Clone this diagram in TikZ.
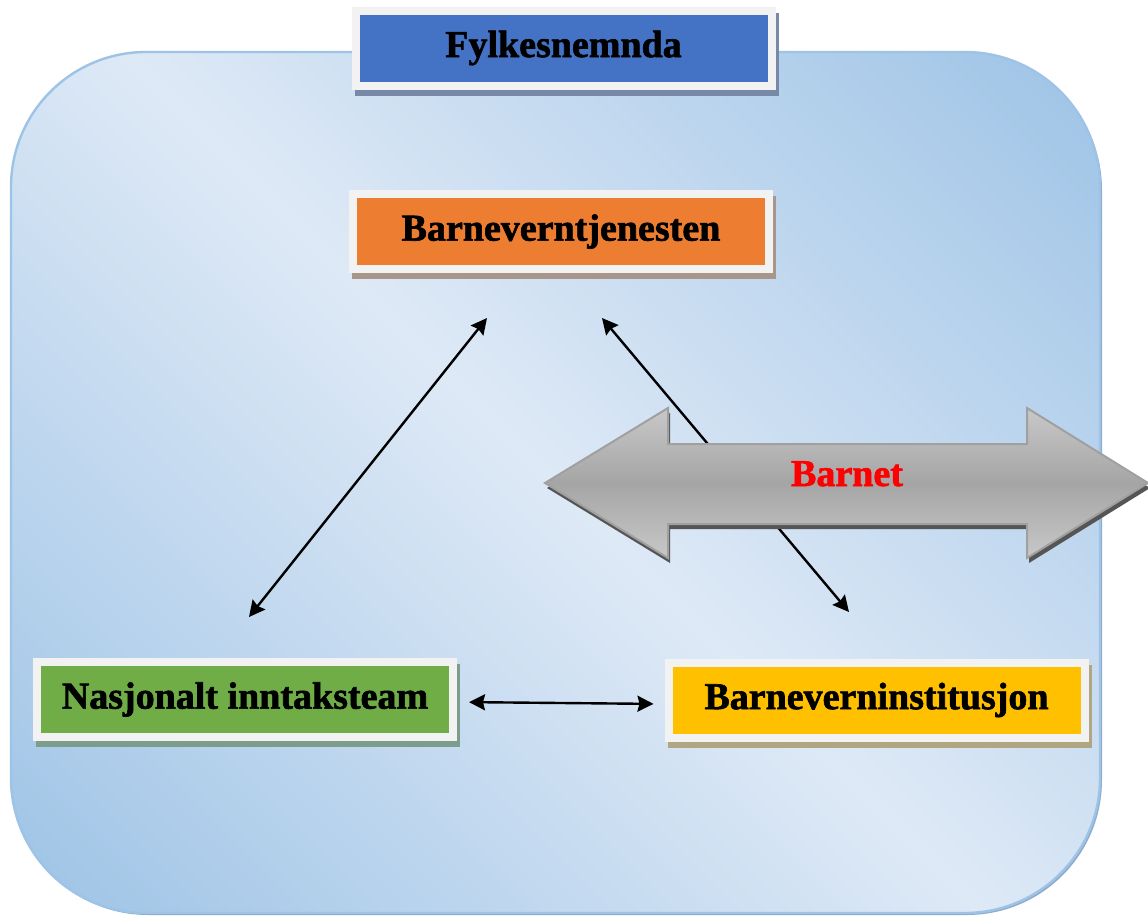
\documentclass[tikz,border=0pt]{standalone}
\usepackage{fontspec}
\setmainfont{Liberation Serif}
\newfontfamily\heavyfont{Liberation Serif Bold}[FakeBold=1.6]
\usetikzlibrary{arrows.meta}
\definecolor{bglight}{HTML}{DEE9F6}
\definecolor{bgdark}{HTML}{9DC3E6}
\definecolor{bgline}{HTML}{9DC3E6}
\definecolor{bgshadow}{HTML}{8FAACB}
\definecolor{cblue}{HTML}{4472C4}
\definecolor{corange}{HTML}{ED7D31}
\definecolor{cgreen}{HTML}{70AD47}
\definecolor{cyellow}{HTML}{FFC000}
\definecolor{frame}{HTML}{F2F2F2}
\definecolor{shblue}{HTML}{7889A8}
\definecolor{shorange}{HTML}{A8968A}
\definecolor{shgreen}{HTML}{7C9C8C}
\definecolor{shyellow}{HTML}{B0A682}
\definecolor{arlight}{HTML}{C8C8C8}
\definecolor{armid}{HTML}{A5A5A5}
\definecolor{arline}{HTML}{A0A0A0}
\definecolor{arshadow}{HTML}{555555}
\pgfdeclarehorizontalshading{bgshade}{100bp}{color(0bp)=(bgdark); color(14.6bp)=(bgdark); color(50bp)=(bglight); color(85.4bp)=(bgdark); color(100bp)=(bgdark)}
\pgfdeclarelayer{bglayer}
\pgfdeclarelayer{shlayer}
\pgfsetlayers{bglayer,shlayer,main}
\begin{document}
\begin{tikzpicture}[x=0.5pt,y=-0.5pt,
  box/.style={draw=frame, line width=4pt, minimum width=208pt, minimum height=37.5pt,
    inner sep=0pt, font=\heavyfont\fontsize{19}{22}\selectfont, text=black},
  tip/.tip={Stealth[length=8pt,width=8pt,inset=1pt]},
  conn/.style={line width=1.2pt, tip-tip},
  bigarrow/.style={draw=arline, line width=1pt, top color=arlight, bottom color=arlight, middle color=armid},
]
\useasboundingbox (0,0) rectangle (1148,916);

\begin{pgfonlayer}{bglayer}
  \fill[bgshadow, rounded corners=67.5pt] (13,55) rectangle (1102,915);
  \path[shading=bgshade, shading angle=45, draw=bgline, line width=1.2pt, rounded corners=67.5pt]
    (11,52) rectangle (1100,913);
\end{pgfonlayer}

\node[box, fill=cblue]   (fyl)  at (563.5,48)  {Fylkesnemnda};
\node[box, fill=corange] (bvt)  at (561,231.5) {Barneverntjenesten};
\node[box, fill=cgreen]  (nas)  at (245,699.5) {Nasjonalt inntaksteam};
\node[box, fill=cyellow] (inst) at (876.5,700) {Barneverninstitusjon};

\begin{pgfonlayer}{shlayer}
  \fill[shblue]   ([xshift=1.5pt,yshift=-3pt]fyl.north west)  rectangle ([xshift=1.5pt,yshift=-3pt]fyl.south east);
  \fill[shorange] ([xshift=1.5pt,yshift=-3pt]bvt.north west)  rectangle ([xshift=1.5pt,yshift=-3pt]bvt.south east);
  \fill[shgreen]  ([xshift=1.5pt,yshift=-3pt]nas.north west)  rectangle ([xshift=1.5pt,yshift=-3pt]nas.south east);
  \fill[shyellow] ([xshift=1.5pt,yshift=-3pt]inst.north west) rectangle ([xshift=1.5pt,yshift=-3pt]inst.south east);
\end{pgfonlayer}

\coordinate (a1) at (249,617);
\coordinate (a2) at (487,318);
\coordinate (b1) at (602,318);
\coordinate (b2) at (849,612);
\draw[conn] (a1) -- (a2);
\draw[conn] (b1) -- (b2);
\draw[conn, shorten <=6pt, shorten >=5.5pt] ([yshift=-1.25pt]nas.east) -- ([yshift=-2pt]inst.west);

\fill[arshadow, shift={(2,5)}] (545,483) -- (668,408) -- (668,444) -- (1027,444) -- (1027,408) -- (1148,483)
  -- (1027,558) -- (1027,524) -- (668,524) -- (668,558) -- cycle;
\path[bigarrow] (545,483) -- (668,408) -- (668,444) -- (1027,444) -- (1027,408) -- (1148,483)
  -- (1027,558) -- (1027,524) -- (668,524) -- (668,558) -- cycle;
\node[font=\heavyfont\fontsize{19}{22}\selectfont, text=red, anchor=base] (barn) at (847,486) {Barnet};
\end{tikzpicture}
\end{document}
